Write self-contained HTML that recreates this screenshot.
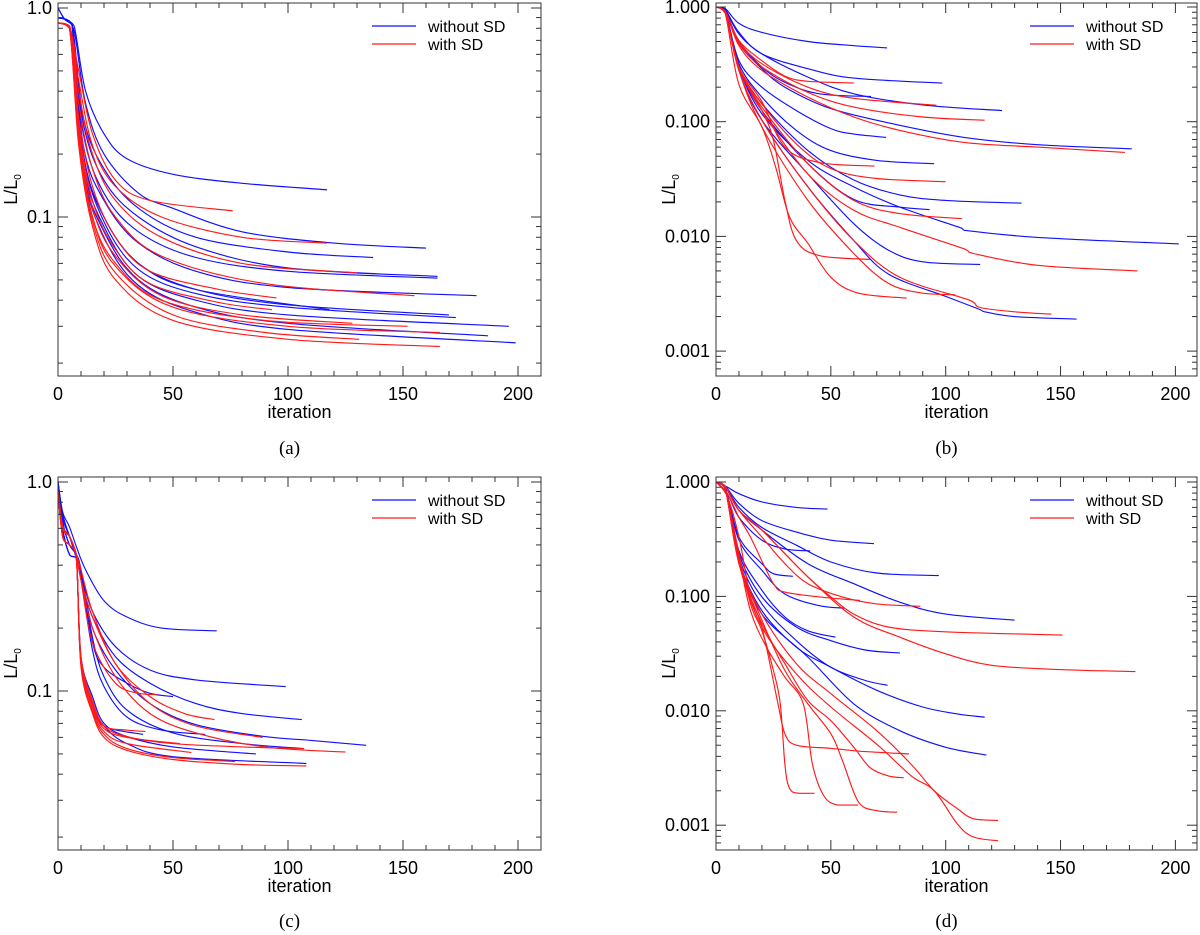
<!DOCTYPE html>
<html><head><meta charset="utf-8"><style>
html,body{margin:0;padding:0;background:#fff;}
svg{display:block;font-family:"Liberation Sans",sans-serif;}
.cap{font-family:"Liberation Serif",serif;font-size:19px;}
</style></head><body>
<svg id="fig" width="1200" height="935" viewBox="0 0 1200 935" xmlns="http://www.w3.org/2000/svg"></svg>
<script>
// ---------- data: each curve is a list of [iteration, L/L0] ----------
const aBlue = [
 [[0,1],[3,0.88],[7,0.82],[12,0.4],[20,0.25],[30,0.19],[50,0.16],[80,0.145],[117,0.135]],
 [[0,1],[3,0.88],[7,0.78],[12,0.35],[20,0.2],[35,0.13],[50,0.11],[80,0.085],[120,0.075],[160,0.071]],
 [[0,0.9],[6,0.84],[11,0.3],[20,0.17],[35,0.11],[60,0.08],[100,0.068],[137,0.064]],
 [[0,0.9],[6,0.84],[11,0.28],[20,0.15],[35,0.1],[60,0.072],[100,0.057],[165,0.052]],
 [[0,0.9],[6,0.84],[11,0.25],[20,0.13],[35,0.085],[60,0.064],[100,0.055],[165,0.051]],
 [[0,0.9],[6,0.84],[11,0.22],[20,0.12],[35,0.075],[60,0.055],[100,0.046],[182,0.042]],
 [[0,0.9],[6,0.84],[11,0.2],[20,0.1],[35,0.06],[60,0.045],[100,0.038],[170,0.034]],
 [[0,0.9],[6,0.84],[11,0.2],[20,0.095],[35,0.056],[60,0.043],[100,0.037],[173,0.033]],
 [[0,0.9],[6,0.84],[11,0.18],[20,0.09],[35,0.052],[60,0.04],[100,0.034],[196,0.03]],
 [[0,0.9],[6,0.84],[11,0.17],[20,0.085],[35,0.05],[60,0.037],[100,0.031],[187,0.027]],
 [[0,0.9],[6,0.84],[11,0.17],[20,0.08],[35,0.047],[60,0.035],[100,0.029],[199,0.025]],
 [[0,0.9],[6,0.84],[11,0.2],[20,0.1],[35,0.06],[60,0.045],[118,0.036]]
];
const aRed = [
 [[0,0.85],[5,0.82],[9,0.5],[15,0.25],[25,0.15],[40,0.12],[76,0.107]],
 [[0,0.85],[5,0.82],[9,0.45],[15,0.22],[25,0.14],[45,0.1],[80,0.08],[117,0.075]],
 [[0,0.85],[5,0.82],[9,0.4],[15,0.2],[25,0.12],[45,0.08],[80,0.06],[130,0.054]],
 [[0,0.85],[5,0.82],[9,0.35],[15,0.17],[25,0.1],[45,0.065],[90,0.048],[155,0.042]],
 [[0,0.85],[5,0.8],[9,0.3],[15,0.14],[25,0.08],[40,0.055],[70,0.045],[95,0.041]],
 [[0,0.85],[5,0.8],[9,0.28],[15,0.12],[25,0.07],[40,0.048],[70,0.039],[93,0.036]],
 [[0,0.85],[5,0.8],[9,0.26],[15,0.11],[25,0.065],[45,0.042],[80,0.034],[128,0.031]],
 [[0,0.85],[5,0.8],[9,0.25],[15,0.1],[25,0.06],[45,0.04],[90,0.032],[152,0.03]],
 [[0,0.85],[5,0.8],[9,0.24],[15,0.1],[25,0.058],[50,0.037],[100,0.03],[166,0.028]],
 [[0,0.85],[5,0.8],[9,0.23],[15,0.095],[25,0.054],[50,0.034],[90,0.028],[131,0.026]],
 [[0,0.85],[5,0.8],[9,0.22],[15,0.09],[25,0.05],[50,0.032],[100,0.026],[166,0.024]]
];
const bBlue = [
 [[0,1],[4,0.97],[10,0.72],[20,0.6],[40,0.5],[60,0.46],[74.5,0.44]],
 [[0,1],[4,0.95],[10,0.6],[20,0.39],[40,0.29],[60,0.24],[98.5,0.217]],
 [[0,1],[4,0.95],[10,0.58],[20,0.39],[40,0.245],[60,0.175],[90,0.14],[124.5,0.125]],
 [[0,1],[4,0.95],[10,0.5],[20,0.3],[30,0.22],[45,0.175],[67.5,0.166]],
 [[0,1],[4,0.95],[10,0.48],[20,0.29],[30,0.2],[50,0.13],[80,0.093],[108,0.073],[140,0.063],[181,0.058]],
 [[0,1],[4,0.93],[10,0.34],[20,0.2],[35,0.125],[50,0.087],[60,0.078],[74,0.073]],
 [[0,1],[4,0.93],[10,0.32],[20,0.164],[35,0.084],[50,0.056],[70,0.046],[95,0.043]],
 [[0,1],[4,0.93],[10,0.3],[20,0.144],[40,0.056],[60,0.031],[80,0.023],[100,0.0206],[133,0.0195]],
 [[0,1],[4,0.93],[10,0.3],[20,0.125],[40,0.043],[60,0.021],[80,0.018],[93,0.0171]],
 [[0,1],[4,0.93],[10,0.3],[20,0.117],[40,0.046],[60,0.027],[80,0.018],[107,0.0118],[108,0.0113],[140,0.0098],[201.5,0.0086]],
 [[0,1],[4,0.93],[10,0.28],[20,0.103],[40,0.035],[60,0.0129],[75,0.0076],[90,0.006],[115,0.0057]],
 [[0,1],[4,0.93],[10,0.28],[20,0.103],[40,0.027],[60,0.0092],[75,0.0047],[100,0.003],[115,0.0023],[117,0.0022],[130,0.002],[157,0.0019]]
];
const bRed = [
 [[0,1],[4,0.92],[10,0.51],[20,0.34],[30,0.25],[40,0.225],[60,0.218]],
 [[0,1],[4,0.92],[10,0.5],[20,0.32],[40,0.2],[60,0.16],[96,0.139]],
 [[0,1],[4,0.92],[10,0.48],[20,0.3],[40,0.18],[60,0.134],[90,0.11],[117,0.103]],
 [[0,1],[4,0.92],[10,0.46],[20,0.28],[40,0.164],[60,0.11],[80,0.084],[108,0.066],[140,0.06],[178,0.054]],
 [[0,1],[4,0.9],[10,0.3],[20,0.15],[30,0.06],[45,0.044],[69,0.041]],
 [[0,1],[4,0.9],[10,0.3],[20,0.143],[35,0.064],[50,0.039],[70,0.032],[100,0.03]],
 [[0,1],[4,0.9],[10,0.3],[20,0.134],[40,0.043],[60,0.0206],[80,0.0158],[107,0.0143]],
 [[0,1],[4,0.9],[10,0.3],[20,0.125],[40,0.035],[60,0.0169],[80,0.012],[108,0.0078],[112,0.0071],[140,0.0056],[183.5,0.005]],
 [[0,1],[4,0.9],[10,0.3],[20,0.125],[25,0.069],[30,0.0206],[35,0.0092],[45,0.0068],[67,0.0063]],
 [[0,1],[4,0.9],[10,0.28],[20,0.09],[40,0.0206],[60,0.0071],[75,0.0039],[90,0.0032],[104,0.0031]],
 [[0,1],[4,0.88],[10,0.21],[20,0.09],[26,0.04],[32,0.0148],[40,0.0087],[50,0.0044],[62,0.0032],[83,0.0029]],
 [[0,1],[4,0.9],[10,0.28],[20,0.103],[40,0.027],[60,0.0092],[80,0.0044],[110,0.0028],[115,0.0024],[130,0.0022],[146,0.0021]]
];
const cBlue = [
 [[0,1],[2,0.72],[5,0.61],[8,0.49],[12,0.38],[20,0.27],[30,0.226],[45,0.2],[69,0.194]],
 [[0,1],[2,0.7],[5,0.55],[10,0.365],[15,0.24],[25,0.163],[40,0.126],[60,0.113],[99,0.105]],
 [[0,1],[2,0.7],[5,0.55],[8,0.45],[10,0.34],[15,0.226],[25,0.146],[40,0.109],[60,0.087],[80,0.078],[106,0.073]],
 [[0,1],[2,0.68],[5,0.55],[8,0.45],[10,0.38],[15,0.2],[25,0.126],[40,0.087],[60,0.069],[90,0.0605],[110,0.058],[134,0.055]],
 [[0,1],[2,0.68],[5,0.55],[8,0.45],[10,0.365],[15,0.17],[20,0.13],[30,0.109],[40,0.0975],[50,0.094]],
 [[0,1],[2,0.65],[5,0.5],[8,0.45],[10,0.38],[15,0.18],[20,0.117],[30,0.081],[50,0.063],[80,0.056],[107,0.053]],
 [[0,1],[2,0.65],[5,0.5],[8,0.45],[10,0.34],[15,0.157],[20,0.105],[30,0.075],[45,0.065],[64,0.062]],
 [[0,1],[2,0.6],[5,0.45],[8,0.43],[10,0.146],[15,0.094],[20,0.07],[30,0.0605],[50,0.054],[86,0.05]],
 [[0,1],[2,0.6],[5,0.45],[8,0.43],[10,0.135],[15,0.087],[20,0.068],[30,0.056],[50,0.0485],[108,0.045]],
 [[0,1],[2,0.6],[5,0.45],[8,0.43],[10,0.14],[15,0.087],[20,0.068],[37,0.062]]
];
const cRed = [
 [[0,0.9],[2,0.62],[5,0.55],[8,0.45],[10,0.38],[15,0.24],[25,0.135],[40,0.094],[55,0.078],[68,0.073]],
 [[0,0.9],[2,0.62],[5,0.55],[8,0.45],[10,0.34],[15,0.226],[25,0.135],[40,0.087],[60,0.068],[89,0.06]],
 [[0,0.9],[2,0.6],[5,0.55],[8,0.45],[10,0.34],[15,0.2],[25,0.117],[40,0.078],[60,0.063],[90,0.054],[125,0.051]],
 [[0,0.9],[2,0.55],[5,0.5],[8,0.43],[10,0.146],[15,0.09],[20,0.068],[30,0.0605],[50,0.056],[80,0.054],[107,0.053]],
 [[0,0.9],[2,0.55],[5,0.5],[8,0.43],[10,0.14],[15,0.087],[20,0.068],[30,0.065],[38,0.064]],
 [[0,0.9],[2,0.55],[5,0.5],[8,0.43],[10,0.14],[15,0.085],[20,0.066],[30,0.06],[53,0.056]],
 [[0,0.9],[2,0.55],[5,0.5],[8,0.43],[10,0.135],[15,0.082],[20,0.064],[30,0.056],[58,0.0508]],
 [[0,0.9],[2,0.55],[5,0.5],[8,0.43],[10,0.135],[15,0.08],[20,0.062],[30,0.053],[50,0.048],[77,0.046]],
 [[0,0.9],[2,0.55],[5,0.5],[8,0.43],[10,0.13],[15,0.078],[20,0.06],[30,0.052],[50,0.047],[80,0.0445],[108,0.0438]],
 [[0,0.9],[2,0.6],[5,0.55],[8,0.45],[10,0.34],[15,0.17],[25,0.109],[35,0.0975],[43,0.096]]
];
const dBlue = [
 [[0,1],[5,0.9],[10,0.79],[20,0.67],[35,0.6],[48.6,0.58]],
 [[0,1],[4,0.92],[10,0.65],[20,0.46],[35,0.365],[50,0.31],[68.8,0.289]],
 [[0,1],[5,0.79],[10,0.49],[20,0.31],[30,0.26],[41,0.25]],
 [[0,1],[4,0.92],[10,0.6],[20,0.4],[35,0.28],[50,0.2],[70,0.16],[97,0.152]],
 [[0,1],[4,0.92],[10,0.565],[20,0.38],[40,0.193],[60,0.129],[80,0.089],[100,0.07],[130,0.062]],
 [[0,1],[4,0.9],[10,0.33],[20,0.193],[25,0.158],[33.5,0.15]],
 [[0,1],[4,0.88],[10,0.31],[20,0.169],[30,0.105],[45,0.083],[56,0.079]],
 [[0,1],[4,0.88],[10,0.25],[20,0.113],[30,0.066],[40,0.05],[52,0.044]],
 [[0,1],[4,0.88],[10,0.236],[20,0.099],[35,0.054],[50,0.041],[65,0.034],[80,0.032]],
 [[0,1],[4,0.88],[10,0.22],[20,0.086],[35,0.041],[50,0.024],[65,0.0184],[74.7,0.0167]],
 [[0,1],[4,0.88],[10,0.206],[20,0.075],[35,0.036],[50,0.024],[70,0.0151],[90,0.0108],[105,0.0094],[117,0.0088]],
 [[0,1],[4,0.88],[10,0.206],[20,0.07],[40,0.0295],[60,0.0115],[80,0.0067],[100,0.0048],[117.7,0.0041]]
];
const dRed = [
 [[0,1],[5,0.79],[10,0.49],[15,0.33],[25,0.129],[30,0.109],[45,0.099],[62.7,0.092]],
 [[0,1],[4,0.92],[10,0.565],[20,0.33],[30,0.193],[40,0.129],[55,0.099],[70,0.086],[89,0.082]],
 [[0,1],[4,0.92],[10,0.565],[20,0.38],[30,0.236],[40,0.148],[50,0.099],[60,0.07],[75,0.054],[100,0.049],[150.8,0.046]],
 [[0,1],[4,0.92],[10,0.565],[20,0.38],[40,0.148],[60,0.066],[80,0.044],[100,0.0315],[120,0.025],[150,0.0229],[182.6,0.022]],
 [[0,1],[5,0.74],[10,0.33],[15,0.099],[20,0.054],[27,0.0115],[30,0.0063],[35,0.005],[50,0.0047],[65,0.0044],[84,0.0042]],
 [[0,1],[4,0.88],[10,0.236],[15,0.086],[20,0.05],[25,0.0225],[28,0.0115],[30,0.0034],[32,0.0021],[36,0.0019],[42.9,0.0019]],
 [[0,1],[4,0.88],[10,0.22],[15,0.075],[22,0.036],[30,0.0197],[38,0.0115],[42,0.0034],[47,0.0018],[53,0.0015],[61.8,0.0015]],
 [[0,1],[4,0.88],[10,0.206],[20,0.062],[30,0.0225],[40,0.0115],[50,0.0063],[55,0.0037],[62,0.0016],[70,0.00134],[78.9,0.0013]],
 [[0,1],[4,0.88],[10,0.193],[20,0.058],[30,0.0258],[40,0.0123],[50,0.0082],[60,0.0048],[67,0.0032],[75,0.0027],[81.7,0.0026]],
 [[0,1],[4,0.88],[10,0.206],[20,0.07],[35,0.0258],[50,0.0141],[70,0.0067],[85,0.0034],[95,0.002],[105,0.0014],[112,0.00114],[122.8,0.0011]],
 [[0,1],[4,0.88],[10,0.193],[20,0.054],[35,0.021],[50,0.0108],[70,0.0051],[85,0.0027],[95,0.002],[105,0.00103],[112,0.00079],[122.8,0.00073]]
];
const xTicks = [0,50,100,150,200];
const yTicksLeft = [1,0.1];
const yLabelsLeft = ["1.0","0.1"];
const yTicksRight = [1,0.1,0.01,0.001];
const yLabelsRight = ["1.000","0.100","0.010","0.001"];
const legendLabels = ["without SD","with SD"];
const captions = ["(a)","(b)","(c)","(d)"];

// ---------- drawing ----------
const NS="http://www.w3.org/2000/svg";
const svg=document.getElementById('fig');
function mk(tag,attrs,parent){const e=document.createElementNS(NS,tag);for(const k in attrs)e.setAttribute(k,attrs[k]);(parent||svg).appendChild(e);return e;}

// smooth path through pixel points (Catmull-Rom, control y clamped to avoid overshoot)
function smoothPath(P){
  let d='M'+P[0][0].toFixed(1)+' '+P[0][1].toFixed(1);
  for(let i=0;i<P.length-1;i++){
    const p0=P[i-1]||P[i], p1=P[i], p2=P[i+1], p3=P[i+2]||P[i+1];
    let c1x=p1[0]+(p2[0]-p0[0])/6, c1y=p1[1]+(p2[1]-p0[1])/6;
    let c2x=p2[0]-(p3[0]-p1[0])/6, c2y=p2[1]-(p3[1]-p1[1])/6;
    const lo=Math.min(p1[1],p2[1]), hi=Math.max(p1[1],p2[1]);
    c1y=Math.min(hi,Math.max(lo,c1y)); c2y=Math.min(hi,Math.max(lo,c2y));
    c1x=Math.min(p2[0],Math.max(p1[0],c1x)); c2x=Math.min(p2[0],Math.max(p1[0],c2x));
    d+=' C'+c1x.toFixed(1)+' '+c1y.toFixed(1)+' '+c2x.toFixed(1)+' '+c2y.toFixed(1)+' '+p2[0].toFixed(1)+' '+p2[1].toFixed(1);
  }
  return d;
}

const panels=[
 {id:'a',L:58,R:541,T:3,B:376,kx:2.3,y1:8,dec:209,blue:aBlue,red:aRed,ticks:yTicksLeft,labels:yLabelsLeft,cap:captions[0],capY:448},
 {id:'b',L:716,R:1197,T:3,B:376,kx:2.297,y1:7,dec:114.7,blue:bBlue,red:bRed,ticks:yTicksRight,labels:yLabelsRight,cap:captions[1],capY:448},
 {id:'c',L:58,R:541,T:477,B:850,kx:2.3,y1:482,dec:209,blue:cBlue,red:cRed,ticks:yTicksLeft,labels:yLabelsLeft,cap:captions[2],capY:921},
 {id:'d',L:716,R:1197,T:477,B:850,kx:2.297,y1:482,dec:114.4,blue:dBlue,red:dRed,ticks:yTicksRight,labels:yLabelsRight,cap:captions[3],capY:921}
];

panels.forEach(p=>{
  const xs=v=>p.L+v*p.kx;
  const ys=v=>p.y1-p.dec*Math.log10(v);
  const g=mk('g',{});
  
  
  const cid='clip'+p.id;
  const cp=mk('clipPath',{id:cid},g);
  mk('rect',{x:p.L,y:p.T,width:p.R-p.L,height:p.B-p.T},cp);
  const sg=mk('g',{'clip-path':'url(#'+cid+')'},g);
  const drawSet=(set,color,name)=>{
    set.forEach((c,i)=>{
      const P=c.map(pt=>[xs(pt[0]),ys(pt[1])]);
      const path=mk('path',{d:smoothPath(P),fill:'none',stroke:color,'stroke-width':1.15,'stroke-linejoin':'round'},sg);
      
      
    });
  };
  drawSet(p.blue,'#1010ff','without-sd');
  drawSet(p.red,'#ff1a1a','with-sd');
  const fr=mk('rect',{x:p.L,y:p.T,width:p.R-p.L,height:p.B-p.T,fill:'none',stroke:'#333','stroke-width':1},g);
  
  
  for(let v=0;p.L+v*p.kx<p.R;v+=10){
    const X=xs(v), len=(v%50===0)?10:5;
    mk('line',{x1:X,y1:p.B,x2:X,y2:p.B-len,stroke:'#333'},g);
    mk('line',{x1:X,y1:p.T,x2:X,y2:p.T+len,stroke:'#333'},g);
  }
  xTicks.forEach(v=>{
    const t=mk('text',{x:xs(v),y:p.B+24,'text-anchor':'middle','font-size':18,fill:'#000'},g);
    t.textContent=v;
    
    
  });
  const xt=mk('text',{x:(p.L+p.R)/2,y:p.B+42,'text-anchor':'middle','font-size':18,fill:'#000'},g);
  xt.textContent='iteration';
  
  
  for(let d=-4;d<=0;d++){
    for(let k=1;k<=9;k++){
      const v=k*Math.pow(10,d);const Y=ys(v);
      if(Y<p.T||Y>p.B)continue;
      const len=k===1?10:5;
      mk('line',{x1:p.L,y1:Y,x2:p.L+len,y2:Y,stroke:'#333'},g);
      mk('line',{x1:p.R,y1:Y,x2:p.R-len,y2:Y,stroke:'#333'},g);
    }
  }
  p.ticks.forEach((v,i)=>{
    const t=mk('text',{x:p.L-6,y:ys(v)+6,'text-anchor':'end','font-size':18,fill:'#000'},g);
    t.textContent=p.labels[i];
    
    
  });
  const yt=mk('text',{transform:'translate('+(p.L-41)+','+((p.T+p.B)/2)+') rotate(-90)','text-anchor':'middle','font-size':18,fill:'#000'},g);
  yt.innerHTML='L/L<tspan font-size="10" dy="4">0</tspan>';
  
  
  const lg=mk('g',{},g);
  
  
  const lx=p.L+314, ly=p.T+23;
  [['#1010ff',0],['#ff1a1a',1]].forEach(([col,i])=>{
    mk('line',{x1:lx,y1:ly+i*18,x2:lx+44,y2:ly+i*18,stroke:col,'stroke-width':1.2},lg);
    const t=mk('text',{x:lx+56,y:ly+i*18+6,'font-size':16,fill:'#000'},lg);
    t.textContent=legendLabels[i];
    
    
  });
  const cap=mk('text',{x:(p.L+p.R)/2-10,y:p.capY+6,'text-anchor':'middle',class:'cap',fill:'#000'},g);
  cap.textContent=p.cap;
  
  
});
</script>
</body></html>
